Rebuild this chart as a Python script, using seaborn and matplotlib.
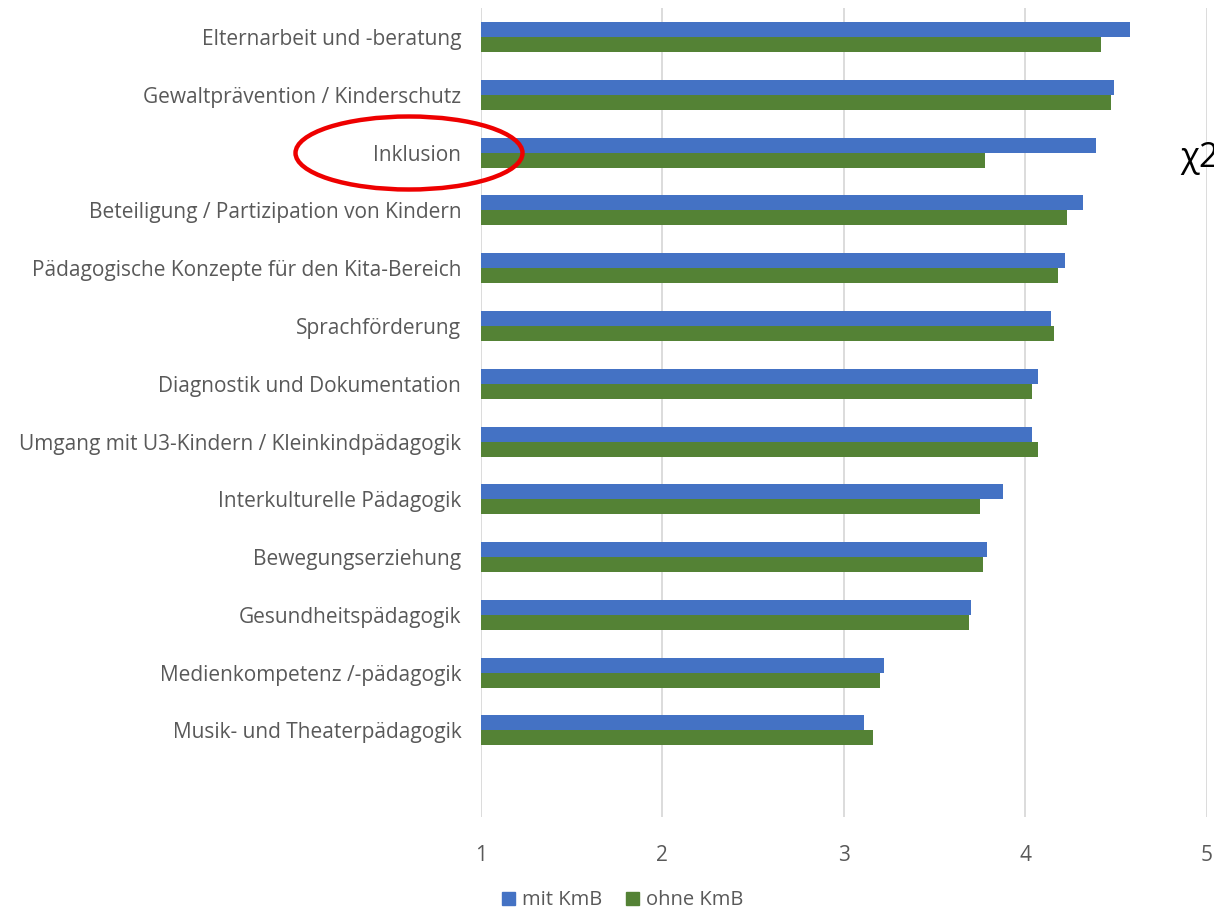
import pandas as pd
import numpy as np
import matplotlib.pyplot as plt
import seaborn as sns
from matplotlib.patches import Ellipse

# Daten
themen = ['Elternarbeit und -beratung', 'Gewaltprävention / Kinderschutz', 'Inklusion',
          'Beteiligung / Partizipation von Kindern', 'Pädagogische Konzepte für den Kita-Bereich',
          'Sprachförderung', 'Diagnostik und Dokumentation',
          'Umgang mit U3-Kindern / Kleinkindpädagogik', 'Interkulturelle Pädagogik',
          'Bewegungserziehung', 'Gesundheitspädagogik', 'Medienkompetenz /-pädagogik',
          'Musik- und Theaterpädagogik']
mit_kmb = [4.58, 4.49, 4.39, 4.32, 4.22, 4.14, 4.07, 4.04, 3.88, 3.79, 3.70, 3.22, 3.11]
ohne_kmb = [4.42, 4.47, 3.78, 4.23, 4.18, 4.16, 4.04, 4.07, 3.75, 3.77, 3.69, 3.20, 3.16]
gruppen = ['mit KmB', 'ohne KmB']
x_ticks = [1, 2, 3, 4, 5]


def main():
    df = pd.DataFrame({'Thema': themen * 2,
                       'Wert': mit_kmb + ohne_kmb,
                       'Gruppe': [gruppen[0]] * len(themen) + [gruppen[1]] * len(themen)})

    sns.set_style('white')
    plt.rcParams['font.family'] = ['Open Sans', 'DejaVu Sans']
    grau = '#595959'

    fig = plt.figure(figsize=(12.14, 9.14), dpi=100)
    ax = fig.add_axes([0.396, 0.106, 0.598, 0.885])

    palette = {'mit KmB': '#4472C4', 'ohne KmB': '#548235'}
    sns.barplot(data=df, y='Thema', x='Wert', hue='Gruppe', order=themen,
                hue_order=gruppen, palette=palette, width=0.52, orient='h',
                saturation=1, linewidth=0, ax=ax, zorder=2)

    ax.set_xlim(1, 5)
    ax.set_ylim(13.5, -0.5)
    ax.set_xticks(x_ticks)
    ax.xaxis.grid(True, color='#D9D9D9', linewidth=1.3, zorder=0)
    ax.set_axisbelow(True)
    for s in ax.spines.values():
        s.set_visible(False)
    ax.set_xlabel('')
    ax.set_ylabel('')
    ax.tick_params(axis='both', length=0, labelsize=15, labelcolor=grau)
    ax.tick_params(axis='x', pad=20)
    ax.tick_params(axis='y', pad=14)

    ax.legend_.remove()
    handles = [plt.Rectangle((0, 0), 1, 1, color=palette[g]) for g in gruppen]
    fig.legend(handles, gruppen, loc='lower center', bbox_to_anchor=(0.513, -0.016),
               ncol=2, frameon=False, fontsize=14.5, labelcolor=grau,
               handlelength=0.65, handleheight=0.65, handletextpad=0.35, columnspacing=1.2)

    # rote Markierung um "Inklusion"
    ell = Ellipse((409 / 1214, 1 - 153 / 914), 227 / 1214, 73 / 914,
                  transform=fig.transFigure, fill=False, edgecolor='#EE0000',
                  linewidth=3.2, zorder=5)
    fig.add_artist(ell)

    fig.text(1180 / 1214, 1 - 158 / 914, 'χ2', fontsize=25, color='black',
             va='center', ha='left')

    fig.savefig('out.png', dpi=100)


if __name__ == "__main__":
    main()
